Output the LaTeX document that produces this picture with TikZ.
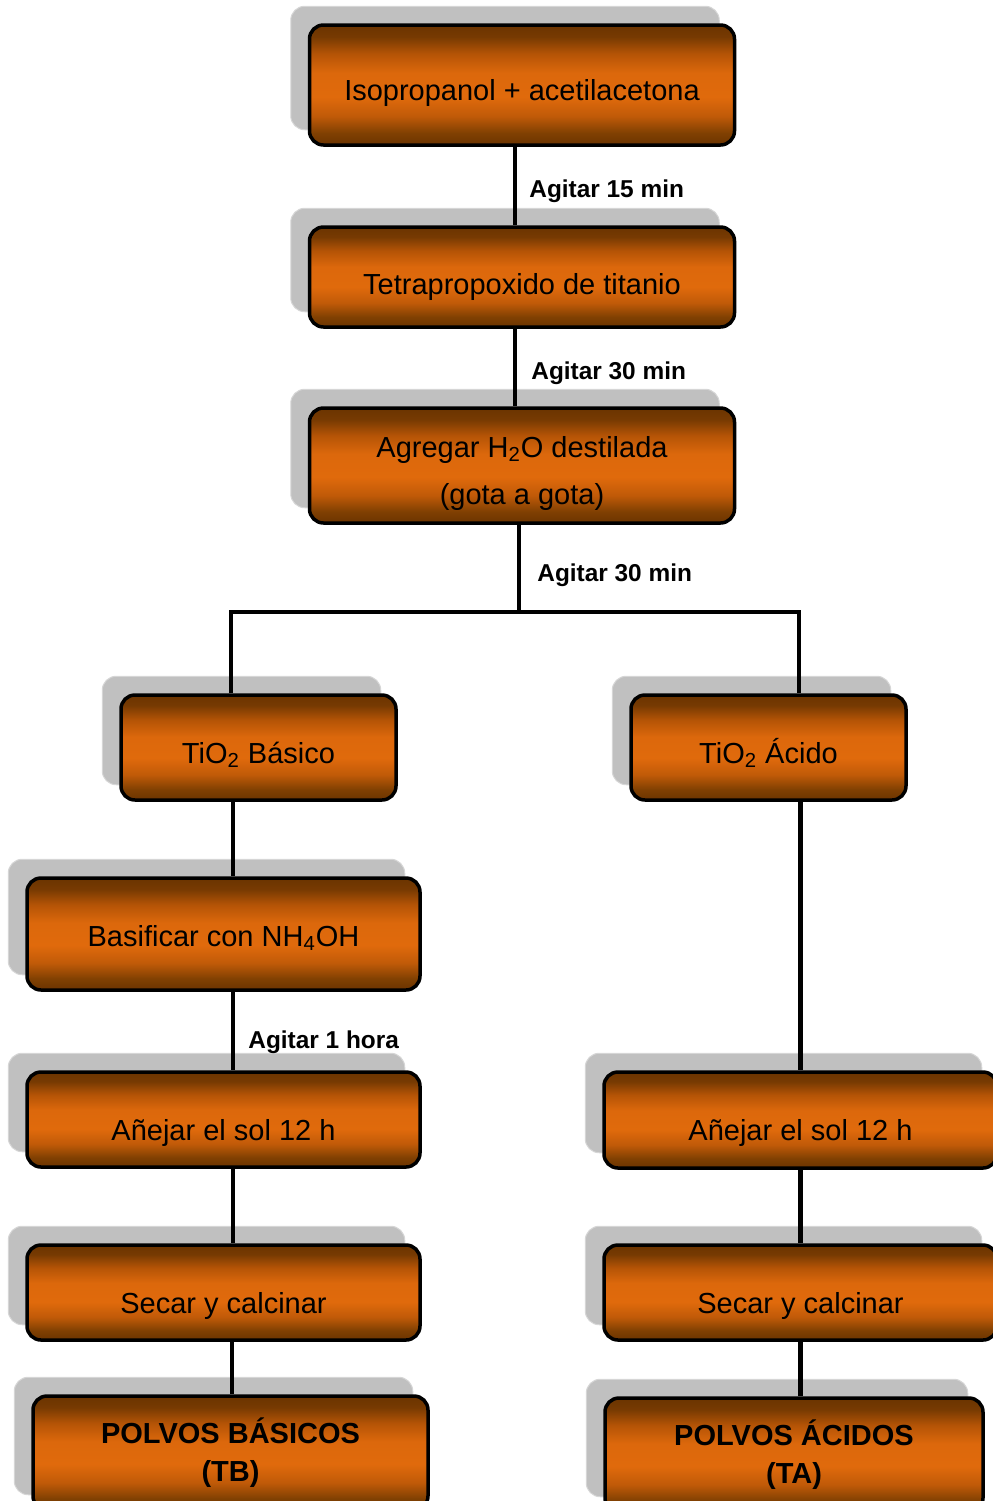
\documentclass[tikz,border=0pt]{standalone}
\usepackage{fontspec}
\setmainfont{Liberation Sans}

\definecolor{dbrown}{HTML}{6B3400}
\definecolor{brownA}{HTML}{773A02}
\definecolor{brownB}{HTML}{804002}
\definecolor{orangeA}{HTML}{B55406}
\definecolor{orangeB}{HTML}{DC680C}
\definecolor{orangeC}{HTML}{E06A0C}
\definecolor{orangeD}{HTML}{C05A08}
\definecolor{shadowgray}{HTML}{C0C0C0}
\definecolor{shadowedge}{HTML}{D6D6D6}

\pgfdeclareverticalshading{boxshade}{100bp}{color(0bp)=(dbrown); color(25bp)=(dbrown);
  color(30bp)=(brownB); color(37bp)=(orangeD); color(45bp)=(orangeC);
  color(55bp)=(orangeB); color(63bp)=(orangeA); color(70bp)=(brownA);
  color(75bp)=(dbrown); color(100bp)=(dbrown)}

\pgfdeclarelayer{shadowlayer}
\pgfdeclarelayer{linelayer}
\pgfsetlayers{shadowlayer,linelayer,main}

\begin{document}
\begin{tikzpicture}[x=0.5pt, y=-0.5pt,
    procbox/.style={draw=black, line width=1.75pt, rounded corners=7pt, shading=boxshade,
      inner sep=0pt, align=center, font=\fontsize{14.5}{23.5}\selectfont},
    endbox/.style={procbox, font=\bfseries\fontsize{14.5}{19}\selectfont},
    textdrop/.style={text height=#1, text depth=2pt},
    shadowbox/.style={fill=shadowgray, draw=shadowedge, line width=0.5pt, rounded corners=7pt},
    conn/.style={line width=2.4pt, black},
    steplabel/.style={anchor=west, inner sep=0pt, font=\bfseries\fontsize{12.2}{14}\selectfont}]

      \useasboundingbox (0,0) rectangle (992,1501);

      %%% trunk %%%
      \node (iso) at (522,85) [procbox, textdrop=17pt, minimum width=212.5pt, minimum height=60pt] {Isopropanol + acetilacetona};
      \node (tetra) at (522,277) [procbox, textdrop=19pt, minimum width=212.5pt, minimum height=50pt] {Tetrapropoxido de titanio};
      \node (agua) at (522,465.5) [procbox, text height=42pt, text depth=3pt, minimum width=212.5pt, minimum height=57.5pt] {Agregar H\textsubscript{2}O destilada\\(gota a gota)};
      \coordinate (splitL) at (231,612);
      \coordinate (splitR) at (799,612);

      %%% basic branch %%%
      \node (basico) at (258.5,747.5) [procbox, textdrop=17.5pt, minimum width=137.5pt, minimum height=52.5pt] {TiO\textsubscript{2} Básico};
      \node (basif) at (223.5,934) [procbox, textdrop=14pt, minimum width=196.5pt, minimum height=56pt] {Basificar con NH\textsubscript{4}OH};
      \node (anejL) at (223.5,1119.5) [procbox, textdrop=22.5pt, minimum width=196.5pt, minimum height=47.5pt] {Añejar el sol 12 h};
      \node (secarL) at (223.5,1292.5) [procbox, textdrop=22.5pt, minimum width=196.5pt, minimum height=47.5pt] {Secar y calcinar};
      \node (polvB) at (230.5,1453) [endbox, minimum width=197.5pt, minimum height=57pt] {POLVOS BÁSICOS\\(TB)};

      %%% acid branch %%%
      \node (acido) at (768.5,747.5) [procbox, textdrop=17.5pt, minimum width=137.5pt, minimum height=52.5pt] {TiO\textsubscript{2} Ácido};
      \node (anejR) at (800.5,1120) [procbox, textdrop=22.5pt, minimum width=196.5pt, minimum height=48pt] {Añejar el sol 12 h};
      \node (secarR) at (800.5,1292.5) [procbox, textdrop=22.5pt, minimum width=196.5pt, minimum height=47.5pt] {Secar y calcinar};
      \node (polvA) at (794,1455) [endbox, minimum width=189pt, minimum height=57pt] {POLVOS ÁCIDOS\\(TA)};

      % step labels
      \node (lab1) at (529,191) [steplabel] {Agitar 15 min};
      \node (lab2) at (531,373) [steplabel] {Agitar 30 min};
      \node (lab3) at (537,575) [steplabel] {Agitar 30 min};
      \node (lab4) at (248,1042) [steplabel] {Agitar 1 hora};

      \begin{pgfonlayer}{linelayer}
      \draw[conn]
      ([shift={(-7,0)}]iso.south) to ([shift={(-7,0)}]tetra.north)
      ([shift={(-7,0)}]tetra.south) to ([shift={(-7,0)}]agua.north)
      ([shift={(-3,0)}]agua.south) to ([shift={(-3,0)}]agua.south |- splitL);
      \draw[conn] (splitL |- basico.north) -- (splitL) -- (splitR) -- (splitR |- acido.north);
      \draw[conn]
      ([shift={(-25.5,0)}]basico.south) to ([shift={(9.5,0)}]basif.north)
      ([shift={(9.5,0)}]basif.south) to ([shift={(9.5,0)}]anejL.north)
      ([shift={(9.5,0)}]anejL.south) to ([shift={(9.5,0)}]secarL.north)
      ([shift={(8.5,0)}]secarL.south) to ([shift={(1.5,0)}]polvB.north);
      \draw[conn]
      (anejR.north |- acido.south) to (anejR.north)
      (anejR.south) to (secarR.north)
      (secarR.south) to ([shift={(6.5,0)}]polvA.north);
      \end{pgfonlayer}

      \begin{pgfonlayer}{shadowlayer}
      \foreach \n in {iso,tetra,agua,basico,acido,basif,anejL,secarL,polvB,anejR,secarR,polvA}
        \draw[shadowbox] ([shift={(-17,-17)}]\n.north west) rectangle ([shift={(-17,-17)}]\n.south east);
      \end{pgfonlayer}

    \end{tikzpicture}
\end{document}
